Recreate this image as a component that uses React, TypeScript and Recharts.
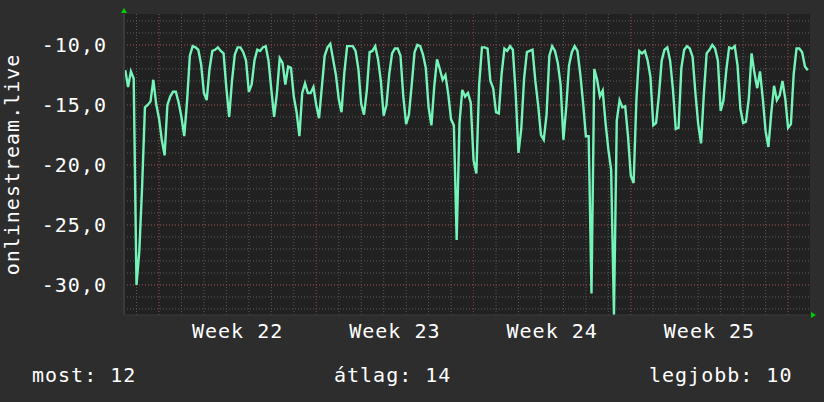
import React from 'react';
import { LineChart, Line, XAxis, YAxis, CartesianGrid, ReferenceLine } from 'recharts';

// one sample every 3 hours, the first one 12h before the first day gridline
const START_HOUR = -12;
const STEP_HOURS = 3;

const loss = [
  -12.1, -13.5, -12.2, -12.8, -30.0, -27.2, -21.8, -15.2, -15.0, -14.7,
  -12.9, -14.9, -16.1, -17.9, -19.2, -15.0, -14.3, -13.9, -13.9, -14.8,
  -16.0, -17.6, -14.7, -10.9, -10.1, -10.2, -10.4, -11.6, -14.0, -14.6,
  -12.0, -10.5, -10.4, -10.2, -10.5, -10.7, -13.6, -16.0, -13.0, -10.8,
  -10.2, -10.2, -10.6, -11.3, -13.9, -13.3, -11.3, -10.4, -10.5, -10.2,
  -10.1, -11.3, -13.7, -16.0, -14.0, -11.1, -11.5, -13.3, -11.8, -11.9,
  -14.3, -15.6, -17.6, -14.0, -13.2, -14.0, -14.0, -13.5, -15.0, -16.1,
  -13.5, -10.9, -10.2, -9.9, -11.2, -12.5, -14.5, -15.6, -12.3, -10.1,
  -10.1,
  -10.1, -10.5, -12.0, -14.9, -15.8, -13.8, -10.6, -10.5, -10.1, -11.2,
  -13.0, -15.9, -15.0, -12.4, -10.7, -10.3, -10.3, -10.9, -14.3, -16.6,
  -15.8, -13.3, -10.6, -10.0, -10.1, -10.8, -11.9, -15.2, -16.7, -13.5,
  -11.2, -12.0, -12.9, -12.5, -14.1, -16.2, -16.7, -26.25, -16.5, -13.75,
  -14.3,
  -14.0, -14.8, -19.6, -20.7, -13.3, -10.2, -10.2, -10.3, -13.0, -13.6,
  -15.6, -15.7, -12.4, -10.3, -10.5, -10.1, -10.4, -14.0, -19.0, -17.0,
  -12.8, -10.6, -10.5, -10.4, -13.0, -15.0, -17.5, -17.9, -15.8, -10.9,
  -10.1, -10.5, -11.5, -13.3, -17.9, -15.2, -11.7, -10.6, -10.1, -10.5,
  -12.4, -14.8,
  -17.6, -17.6, -30.7, -12.0, -12.9, -14.3, -13.8, -16.5, -18.7, -20.4,
  -32.5, -16.3, -14.6, -15.2, -15.1, -17.6, -20.9, -21.5, -14.5, -10.5,
  -10.7, -10.5, -11.3, -12.7, -16.7, -16.5, -14.2, -11.3, -10.4, -10.2,
  -11.3, -13.7, -17.0, -16.9, -11.9, -10.4, -10.1, -10.3, -11.0, -14.0,
  -16.6,
  -18.2, -14.1, -10.7, -10.4, -10.0, -10.3, -11.3, -15.5, -14.6, -12.1,
  -10.2, -10.3, -10.1, -11.7, -15.3, -16.5, -16.4, -14.5, -10.7, -12.3,
  -13.6, -12.2, -14.5, -17.2, -18.5, -15.7, -13.4, -14.6, -14.2, -13.0,
  -14.5, -16.9, -16.6, -12.4, -10.3, -10.3, -10.6, -11.8, -12.1,
];

const yTicks = [-30, -25, -20, -15, -10];
const yMinor = Array.from({ length: 25 }, (_, i) => -32 + i);
const dayLines = Array.from({ length: 30 }, (_, i) => i * 24);
const weekLines = [24, 192, 360, 528, 696];
const weekTicks = [108, 276, 444, 612];
const weekNames = ['Week 22', 'Week 23', 'Week 24', 'Week 25'];
const summaryLabels = ['most', 'átlag', 'legjobb'];
const summaryValues = [12, 14, 10];

const data = loss.map((v, i) => ({ t: START_HOUR + i * STEP_HOURS, v }));

const FONT = "'DejaVu Sans Mono', monospace";
const tickStyle = { fill: '#ffffff', fontSize: 20, fontFamily: FONT, letterSpacing: 1 };

const App: React.FC = () => {
  return (
    <div style={{ position: 'relative', width: 824, height: 402, background: '#2d2d2d' }}>
      <style>{'body{margin:0}'}</style>
      <LineChart width={824} height={402} data={data} margin={{ top: 14, right: 14, left: 0, bottom: 57 }}>
        <CartesianGrid horizontal={false} vertical={false} fill="#212121" />
        {yMinor.map(v => (
          <ReferenceLine key={`ym${v}`} y={v} stroke="#5a5a5a" strokeDasharray="1 2" />
        ))}
        {dayLines.map(t => (
          <ReferenceLine key={`xd${t}`} x={t} stroke="#5a5a5a" strokeDasharray="1 2" />
        ))}
        {yTicks.map(v => (
          <ReferenceLine key={`yM${v}`} y={v} stroke="#8a3a3a" strokeDasharray="1 2" />
        ))}
        {weekLines.map(t => (
          <ReferenceLine key={`xw${t}`} x={t} stroke="#8a3a3a" strokeDasharray="1 2" />
        ))}
        <XAxis
          dataKey="t"
          type="number"
          domain={[-13.35, 719.4]}
          allowDataOverflow
          ticks={weekTicks}
          tickFormatter={v => weekNames[weekTicks.indexOf(v)]}
          axisLine={{ stroke: '#3a3a3a' }}
          tickLine={false}
          tickSize={0}
          tickMargin={9}
          height={30}
          tick={tickStyle}
        />
        <YAxis
          type="number"
          domain={[-32.5, -7.42]}
          allowDataOverflow
          ticks={yTicks}
          tickFormatter={v => v.toFixed(1).replace('.', ',')}
          axisLine={{ stroke: '#3a3a3a', strokeWidth: 2 }}
          tickLine={false}
          tickSize={0}
          tickMargin={17}
          width={124}
          tick={tickStyle}
          label={{
            content: ({ viewBox }: any) => (
              <text
                x={12}
                y={viewBox.y + viewBox.height / 2}
                transform={`rotate(-90 12 ${viewBox.y + viewBox.height / 2})`}
                textAnchor="middle"
                dominantBaseline="central"
                fill="#ffffff"
                fontSize={20}
                fontFamily={FONT}
                letterSpacing={1}
              >
                onlinestream.live
              </text>
            ),
          }}
        />
        <Line
          type="linear"
          dataKey="v"
          stroke="#74f4b9"
          strokeWidth={2.4}
          dot={false}
          isAnimationActive={false}
        />
      </LineChart>
      <svg width={824} height={402} style={{ position: 'absolute', left: 0, top: 0, pointerEvents: 'none' }}>
        <polygon points="121,13 127,13 124,8" fill="#00d000" />
        <polygon points="811,312 811,318 816,315" fill="#00d000" />
        <g fill="#ffffff" fontSize={20} fontFamily={FONT} letterSpacing={1}>
          <text x={32} y={382}>{`${summaryLabels[0]}: ${summaryValues[0]}`}</text>
          <text x={334} y={382}>{`${summaryLabels[1]}: ${summaryValues[1]}`}</text>
          <text x={649} y={382}>{`${summaryLabels[2]}: ${summaryValues[2]}`}</text>
        </g>
      </svg>
    </div>
  );
};

export default App;
